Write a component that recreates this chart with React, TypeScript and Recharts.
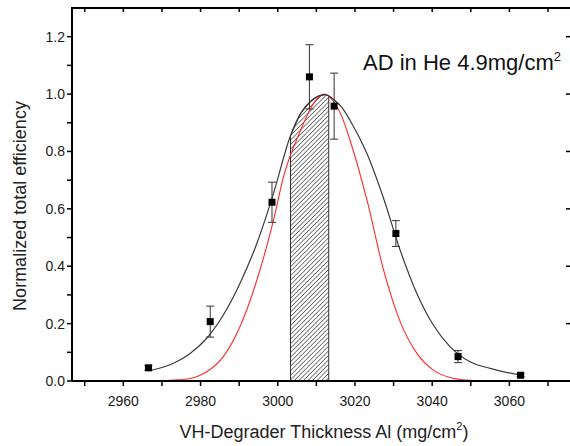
import React from 'react';
import {
    ComposedChart,
    Line,
    Area,
    Scatter,
    ErrorBar,
    XAxis,
    YAxis,
} from 'recharts';

// measured points (degrader thickness, normalized efficiency, y error)
const thickness = [2966.5, 2982.5, 2998.5, 3008.2, 3014.6, 3030.6, 3046.7, 3062.9];
const efficiency = [0.046, 0.207, 0.623, 1.06, 0.958, 0.514, 0.085, 0.02];
const efficiencyErr = [0.008, 0.054, 0.07, 0.112, 0.115, 0.045, 0.021, 0.005];

// black fit curve
const fitX = [2966.5, 2970, 2973, 2977.3, 2981.6, 2985.9, 2990.2, 2994.6, 2998.9, 3003.2, 3005.8, 3008.5, 3010.5, 3012.3, 3014.4, 3016.5, 3018.7, 3023.1, 3027.4, 3031.7, 3036, 3040.3, 3044.6, 3049.8, 3055, 3062.5];
const fitY = [0.035, 0.047, 0.062, 0.096, 0.149, 0.23, 0.34, 0.48, 0.654, 0.851, 0.93, 0.975, 0.993, 0.998, 0.982, 0.955, 0.909, 0.793, 0.637, 0.456, 0.306, 0.195, 0.12, 0.067, 0.044, 0.021];

// red curve
const redX = [2946.7, 2968, 2973, 2977.3, 2981.6, 2985.9, 2990.2, 2994.6, 2998.9, 3001.5, 3005.8, 3008.5, 3010.5, 3012.1, 3014.4, 3016.5, 3018.7, 3023.1, 3027.4, 3031.7, 3036, 3040.3, 3044.6, 3049, 3054, 3075.7];
const redY = [0, 0, 0.003, 0.009, 0.032, 0.085, 0.189, 0.352, 0.561, 0.712, 0.87, 0.95, 0.988, 1.0, 0.975, 0.925, 0.84, 0.631, 0.387, 0.207, 0.097, 0.038, 0.012, 0.003, 0, 0];

// hatched window under the black curve (closed at the base on both sides)
const bandX = [3003.3, 3003.3, 3005.8, 3008.5, 3010.5, 3012.3, 3013.2, 3013.2];
const bandY = [0, 0.855, 0.93, 0.975, 0.993, 0.998, 0.994, 0];

const xTicks = [2950, 2960, 2970, 2980, 2990, 3000, 3010, 3020, 3030, 3040, 3050, 3060, 3070];
const xLabels = [2960, 2980, 3000, 3020, 3040, 3060];
const yTicks = [0, 0.1, 0.2, 0.3, 0.4, 0.5, 0.6, 0.7, 0.8, 0.9, 1.0, 1.1, 1.2];
const yLabels = [0, 0.2, 0.4, 0.6, 0.8, 1.0, 1.2];
const rightTicks = [0.2, 0.4, 0.6, 0.8, 1.0, 1.2];

const X_MIN = 2946.7;
const X_MAX = 3075.7;
const Y_MAX = 1.3;

// plot box (same numbers as the chart margins/axis sizes below)
const W = 570;
const H = 446;
const LEFT = 72;
const TOP = 8;
const X_AXIS_H = 65;
const plotW = W - LEFT;
const plotH = H - TOP - X_AXIS_H;

const pointData = thickness.map((x, i) => ({ x, y: efficiency[i], err: efficiencyErr[i] }));
const fitData = fitX.map((x, i) => ({ x, y: fitY[i] }));
const redData = redX.map((x, i) => ({ x, y: redY[i] }));
const bandData = bandX.map((x, i) => ({ x, y: bandY[i] }));

const FONT = '"Liberation Sans", Arial, sans-serif';
const axisStroke = { stroke: '#000', strokeWidth: 2 };
const tickStroke = { stroke: '#000', strokeWidth: 1.5 };

const Square = (props: any) => {
    const { cx, cy } = props;
    if (cx == null || cy == null) return null;
    return <rect x={cx - 3.5} y={cy - 3.5} width={7} height={7} fill="#000" />;
};

const px = (v: number) => LEFT + ((v - X_MIN) / (X_MAX - X_MIN)) * plotW;
const py = (v: number) => TOP + ((Y_MAX - v) / Y_MAX) * plotH;

export default function App() {
    return (
        <div style={{ position: 'absolute', left: 0, top: 0, background: '#fff' }}>
            <ComposedChart
                width={W}
                height={H}
                margin={{ top: TOP, right: 0, bottom: 0, left: 0 }}
                style={{ fontFamily: FONT }}
            >
                <defs>
                    <pattern
                        id="hatch"
                        patternUnits="userSpaceOnUse"
                        width={3.2}
                        height={3.2}
                        patternTransform="rotate(45)"
                    >
                        <rect width={3.2} height={3.2} fill="#fff" />
                        <line x1={0} y1={0} x2={0} y2={3.2} stroke="#2a2a2a" strokeWidth={1.2} />
                    </pattern>
                </defs>
                <XAxis
                    dataKey="x"
                    type="number"
                    domain={[X_MIN, X_MAX]}
                    allowDataOverflow
                    ticks={xTicks}
                    interval={0}
                    tickFormatter={(v) => (xLabels.includes(v) ? String(v) : '')}
                    height={X_AXIS_H}
                    tickSize={5}
                    tickMargin={10}
                    axisLine={axisStroke}
                    tickLine={tickStroke}
                    tick={{ fill: '#1a1a1a', fontSize: 14 }}
                />
                <YAxis
                    type="number"
                    domain={[0, Y_MAX]}
                    allowDataOverflow
                    ticks={yTicks}
                    interval={0}
                    width={LEFT}
                    tickSize={5}
                    tickFormatter={(v) => (yLabels.some((l) => Math.abs(l - v) < 1e-6) ? v.toFixed(1) : '')}
                    axisLine={axisStroke}
                    tickLine={tickStroke}
                    tick={{ fill: '#1a1a1a', fontSize: 14 }}
                />
                <Area
                    data={bandData}
                    dataKey="y"
                    type="linear"
                    fill="url(#hatch)"
                    fillOpacity={1}
                    stroke="#333"
                    strokeWidth={1}
                    dot={false}
                    activeDot={false}
                    isAnimationActive={false}
                />
                <Line
                    data={redData}
                    dataKey="y"
                    type="monotone"
                    stroke="#ff2a2a"
                    strokeWidth={1.1}
                    dot={false}
                    activeDot={false}
                    isAnimationActive={false}
                />
                <Line
                    data={fitData}
                    dataKey="y"
                    type="monotone"
                    stroke="#3a3a3a"
                    strokeWidth={1.2}
                    dot={false}
                    activeDot={false}
                    isAnimationActive={false}
                />
                <Scatter data={pointData} dataKey="y" shape={Square} isAnimationActive={false}>
                    <ErrorBar dataKey="err" direction="y" width={4} stroke="#333" strokeWidth={1} />
                </Scatter>
                {/* top frame with inward ticks, right-frame ticks (its line is cut at the edge) */}
                <rect x={LEFT - 1} y={TOP - 1} width={plotW + 1} height={2} fill="#000" />
                {xTicks.map((t) => (
                    <rect key={`tt${t}`} x={px(t) - 0.75} y={TOP} width={1.5} height={4} fill="#000" />
                ))}
                {rightTicks.map((t) => (
                    <rect key={`rt${t}`} x={W - 4} y={py(t) - 0.75} width={4} height={1.5} fill="#000" />
                ))}
                <text x={363} y={70} fontSize={22} fill="#111" fontFamily={FONT}>
                    AD in He 4.9mg/cm
                    <tspan dy={-9} fontSize={13}>2</tspan>
                </text>
                <text
                    transform="rotate(-90)"
                    x={-206}
                    y={26}
                    textAnchor="middle"
                    fontSize={18}
                    fill="#222"
                    fontFamily={FONT}
                >
                    Normalized total efficiency
                </text>
                <text x={324} y={438} textAnchor="middle" fontSize={18} fill="#222" fontFamily={FONT}>
                    VH-Degrader Thickness Al (mg/cm
                    <tspan dy={-8} fontSize={11}>2</tspan>
                    <tspan dy={8}>)</tspan>
                </text>
            </ComposedChart>
        </div>
    );
}
